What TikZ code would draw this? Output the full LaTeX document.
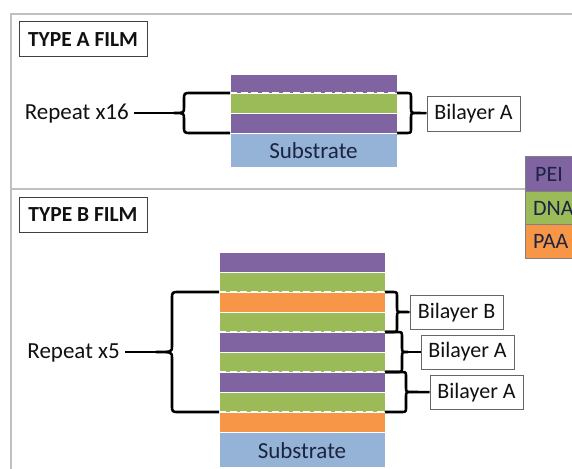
\documentclass[tikz,border=0pt]{standalone}
\usepackage{fontspec}
\setmainfont{Carlito}
\definecolor{pei}{HTML}{8064A2}
\definecolor{dna}{HTML}{9BBB59}
\definecolor{paa}{HTML}{F79646}
\definecolor{subs}{HTML}{95B3D7}
\definecolor{frame}{HTML}{C0C0C0}
\definecolor{ink}{HTML}{111111}
\definecolor{navy}{HTML}{1B2440}
\newcommand{\myBraceL}[5]{% xs, ytop, ybot, xv, xt
  \draw[bracestyle] (#1,#2) -- ({#4+7},#2) .. controls (#4,#2) .. ({#4},{#2+7})
   -- (#4,{(#2+#3)/2-6}) .. controls (#4,{(#2+#3)/2}) .. (#5,{(#2+#3)/2})
   .. controls (#4,{(#2+#3)/2}) .. (#4,{(#2+#3)/2+6})
   -- (#4,{#3-7}) .. controls (#4,#3) .. ({#4+7},#3) -- (#1,#3);}
\newcommand{\myBraceR}[5]{% xs, ytop, ybot, xv, xt
  \draw[bracestyle] (#1,#2) -- ({#4-5},#2) .. controls (#4,#2) .. ({#4},{#2+5})
   -- (#4,{(#2+#3)/2-5}) .. controls (#4,{(#2+#3)/2}) .. (#5,{(#2+#3)/2})
   .. controls (#4,{(#2+#3)/2}) .. (#4,{(#2+#3)/2+5})
   -- (#4,{#3-5}) .. controls (#4,#3) .. ({#4-5},#3) -- (#1,#3);}
\begin{document}
\begin{tikzpicture}[x=1pt,y=-1pt,
  every node/.style={font=\fontsize{23}{27}\selectfont, text=ink},
  titlebox/.style={draw=black!75, line width=1pt, minimum width=128pt, minimum height=35pt, inner sep=0pt, font=\fontsize{21.5}{25}\selectfont\bfseries},
  labelbox/.style={draw=black!60, line width=1pt, minimum width=93pt, minimum height=34pt, inner sep=0pt, font=\fontsize{22}{26}\selectfont},
  reptext/.style={inner sep=5pt},
  layer/.style={draw=white, line width=0.3pt},
  sep/.style={white, line width=2.2pt, dash pattern=on 7pt off 3.5pt},
  bracestyle/.style={black, line width=2.6pt, line join=round},
  conn/.style={black, line width=2.6pt},
  framel/.style={frame, line width=1.6pt}]
\useasboundingbox (0,0) rectangle (572,468);
\fill[white] (0,0) rectangle (572,468);
% frame
\draw[framel] (572,14) -- (11,14) -- (11,470);
\draw[framel] (11,189) -- (525,189);
% legend
\fill[pei] (525,156) rectangle (600,191);
\fill[dna] (525,191) rectangle (600,224);
\fill[paa] (525,224) rectangle (600,258);
\draw[black!50, line width=0.8pt] (525,156) rectangle (600,258);
\draw[black!50, line width=0.8pt] (525,191) -- (600,191) (525,224) -- (600,224);
\node[anchor=west, text=navy, inner sep=0pt, font=\fontsize{22}{26}\selectfont] (lpei) at (535,174) {PEI};
\node[anchor=west, text=navy, inner sep=0pt, font=\fontsize{22}{26}\selectfont] (ldna) at (533,208) {DNA};
\node[anchor=west, text=navy, inner sep=0pt, font=\fontsize{22}{26}\selectfont] (lpaa) at (533,241) {PAA};
% ---------- TYPE A
\node[titlebox] (ta) at (83,39.5) {TYPE A FILM};
\fill[layer, fill=pei] (230,74) rectangle (397,93);
\fill[layer, fill=dna] (230,93) rectangle (397,113);
\fill[layer, fill=pei] (230,113) rectangle (397,133);
\fill[layer, fill=subs] (230,133) rectangle (397,167);
\node[text=navy] (subA) at (313.5,151) {Substrate};
\draw[sep] (230,93) -- (397,93);
\myBraceL{230}{93}{133}{184}{174}
\coordinate (tipAL) at (174,113);
\myBraceR{397}{93}{133}{411}{418}
\coordinate (tipAR) at (418,113);
\node[reptext, anchor=east] (repA) at (134,114) {Repeat x16};
\node[labelbox] (bilA) at (473.5,114) {Bilayer A};
\draw[conn] (repA.east |- tipAL) -- (tipAL);
\draw[conn] (tipAR) -- (bilA);
% ---------- TYPE B
\node[titlebox] (tb) at (83,215) {TYPE B FILM};
\fill[layer, fill=pei] (219,252) rectangle (385,272);
\fill[layer, fill=dna] (219,272) rectangle (385,292);
\fill[layer, fill=paa] (219,292) rectangle (385,312);
\fill[layer, fill=dna] (219,312) rectangle (385,332);
\fill[layer, fill=pei] (219,332) rectangle (385,352);
\fill[layer, fill=dna] (219,352) rectangle (385,372);
\fill[layer, fill=pei] (219,372) rectangle (385,392);
\fill[layer, fill=dna] (219,392) rectangle (385,412);
\fill[layer, fill=paa] (219,412) rectangle (385,432);
\fill[layer, fill=subs] (219,432) rectangle (385,467);
\node[text=navy] (subB) at (302,451) {Substrate};
\foreach \yy in {292,332,372,412} \draw[sep] (219,\yy) -- (385,\yy);
\myBraceL{219}{292}{412}{172}{156}
\coordinate (tipBL) at (156,352);
\myBraceR{385}{292}{332}{397}{403}
\coordinate (tipB1) at (403,312);
\myBraceR{385}{332}{372}{402}{408}
\coordinate (tipB2) at (408,352);
\myBraceR{385}{372}{412}{406}{412}
\coordinate (tipB3) at (412,392);
\node[reptext, anchor=east] (repB) at (125,353) {Repeat x5};
\node[labelbox] (bB) at (456.5,312.5) {Bilayer B};
\node[labelbox] (bA1) at (467.5,352) {Bilayer A};
\node[labelbox] (bA2) at (476.5,392.5) {Bilayer A};
\draw[conn] (repB.east |- tipBL) -- (tipBL);
\draw[conn] (tipB1) -- (bB);
\draw[conn] (tipB2) -- (bA1);
\draw[conn] (tipB3) -- (bA2);
\end{tikzpicture}
\end{document}
